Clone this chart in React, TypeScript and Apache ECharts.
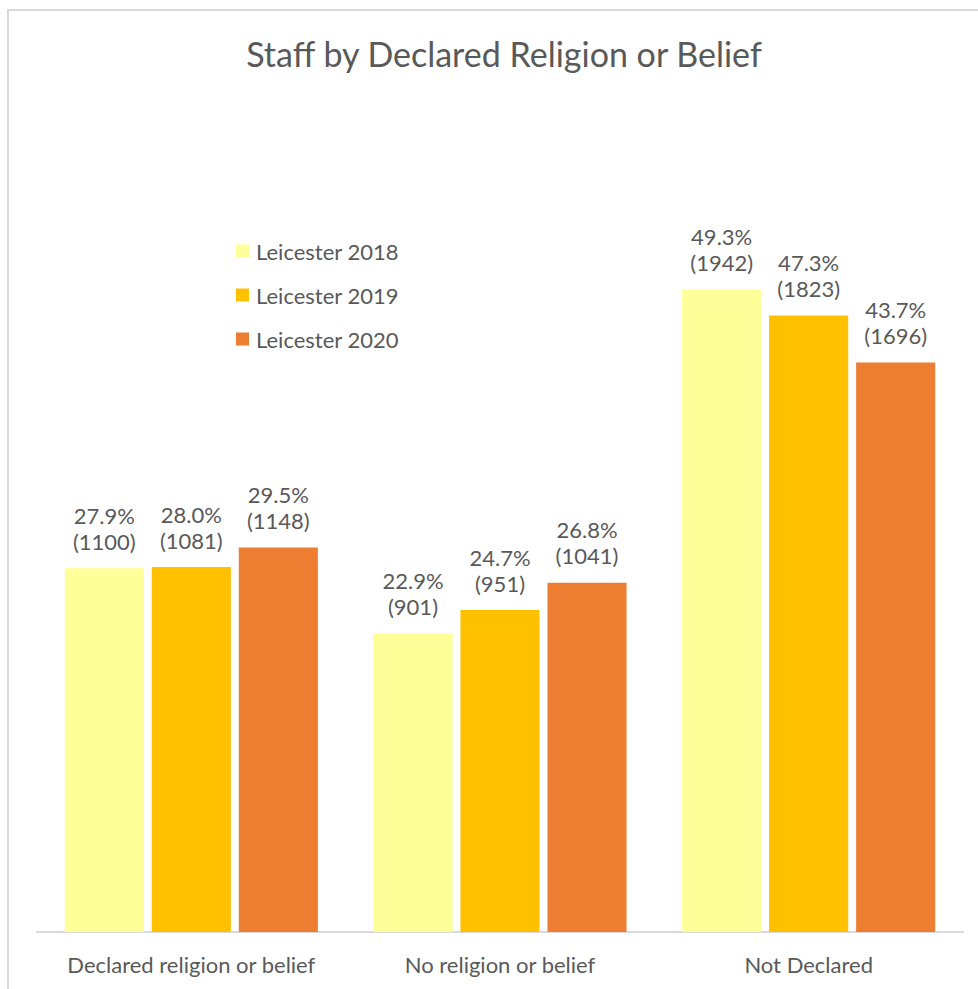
import React, { useEffect, useRef } from "react";
import * as echarts from "echarts";

const categories = ["Declared religion or belief", "No religion or belief", "Not Declared"];
const seriesNames = ["Leicester 2018", "Leicester 2019", "Leicester 2020"];
const pct2018 = [27.9, 22.9, 49.3];
const pct2019 = [28.0, 24.7, 47.3];
const pct2020 = [29.5, 26.8, 43.7];
const cnt2018 = [1100, 901, 1942];
const cnt2019 = [1081, 951, 1823];
const cnt2020 = [1148, 1041, 1696];
const colors = ["#FFFF99", "#FFC000", "#ED7D31"];

const FONT = "Lato, 'Open Sans', sans-serif";

export default function App() {
  const ref = useRef<HTMLDivElement>(null);
  useEffect(() => {
    if (!ref.current) return;
    const chart = echarts.init(ref.current, undefined, { renderer: "svg" });
    const pcts = [pct2018, pct2019, pct2020];
    const cnts = [cnt2018, cnt2019, cnt2020];
    chart.setOption({
      animation: false,
      backgroundColor: "#ffffff",
      textStyle: { fontFamily: FONT },
      title: {
        text: "Staff by Declared Religion or Belief",
        left: 499,
        textAlign: "center",
        top: 31,
        textStyle: { fontFamily: FONT, fontSize: 34, fontWeight: "normal", color: "#595959" },
      },
      legend: {
        orient: "vertical",
        left: 231,
        top: 235,
        itemWidth: 13,
        itemHeight: 13,
        itemGap: 22,
        icon: "rect",
        textStyle: { fontFamily: FONT, fontSize: 22, color: "#595959", padding: [0, 0, 0, 2] },
        data: seriesNames,
      },
      graphic: [
        {
          type: "rect",
          shape: { x: 8, y: 10, width: 1000, height: 1000 },
          style: { fill: "none", stroke: "#D9D9D9", lineWidth: 2 },
          silent: true,
        },
      ],
      grid: { left: 37, right: 15, top: 150, bottom: 57 },
      xAxis: {
        type: "category",
        data: categories,
        axisTick: { show: false },
        axisLine: { show: true, lineStyle: { color: "#D9D9D9", width: 2 } },
        axisLabel: { fontFamily: FONT, fontSize: 22, color: "#595959", margin: 21, interval: 0 },
      },
      yAxis: {
        type: "value",
        min: 0,
        max: 60,
        interval: 10,
        show: false,
        splitLine: { show: false },
      },
      series: seriesNames.map((name, i) => ({
        name,
        type: "bar",
        barGap: "10%",
        barCategoryGap: "18%",
        itemStyle: { color: colors[i] },
        data: pcts[i],
        label: {
          show: true,
          position: "top",
          distance: 14,
          fontFamily: FONT,
          fontSize: 22,
          lineHeight: 26,
          color: "#595959",
          formatter: (p: any) => `${pcts[i][p.dataIndex].toFixed(1)}%\n(${cnts[i][p.dataIndex]})`,
        },
      })),
    });
    return () => chart.dispose();
  }, []);
  return (
    <div
      ref={ref}
      style={{ position: "fixed", left: 0, top: 0, width: 978, height: 989 }}
    />
  );
}
